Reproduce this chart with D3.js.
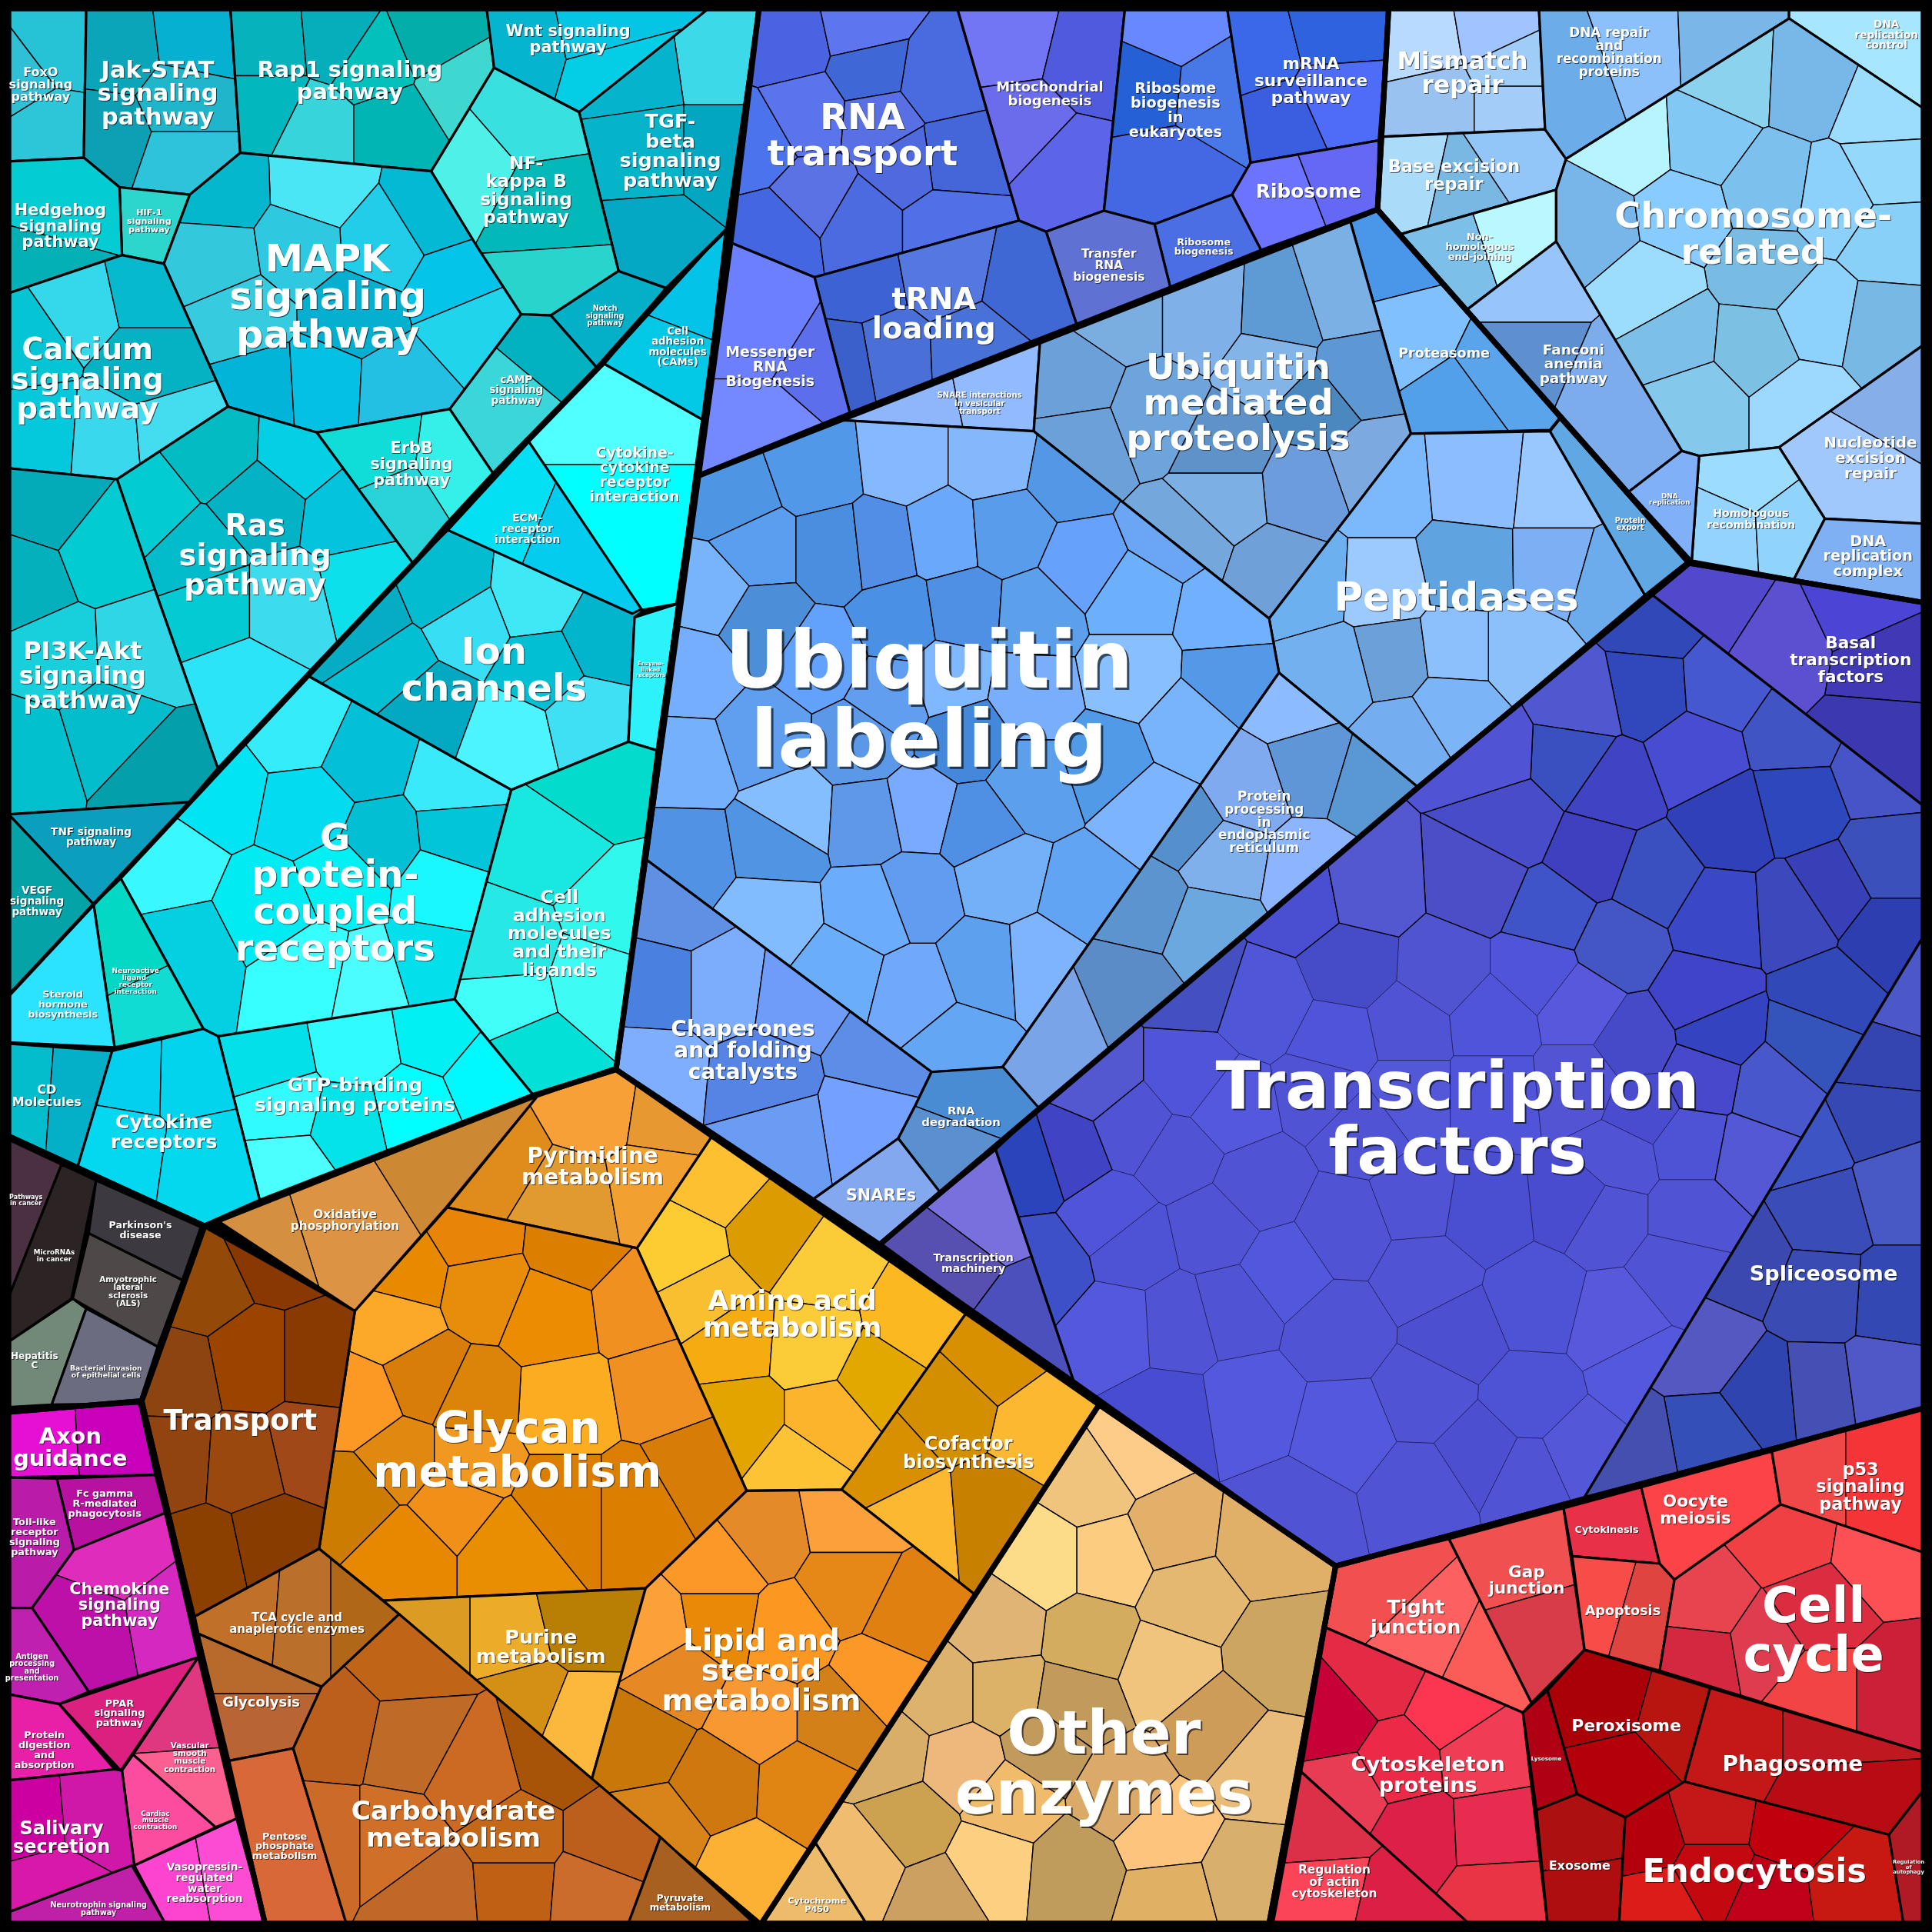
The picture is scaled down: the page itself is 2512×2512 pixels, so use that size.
<!DOCTYPE html>
<html><head><meta charset="utf-8">
<script src="https://cdn.jsdelivr.net/npm/d3@7"></script>
<style>html,body{margin:0;background:#000}svg{display:block}</style></head>
<body><svg id="c" width="2512" height="2512"></svg>
<script>
// Every row: [label ("|" = line break), region outline, cell sites [x,y,tone,faint?], [label x, y, size]]
// All read off the picture on a 0..1568 grid.
const signalingRows = [
["FoxO|signaling|pathway",[[7,7],[70,7],[68,128],[7,131]],[[15,65,"2fc0d6"],[48,40,"26c3d6"],[38,102,"2dc6d9"]],[33,68,10]],
["Jak-STAT|signaling|pathway",[[70,7],[187,7],[195,124],[154,158],[97,152],[68,128]],[[95,40,"0ba5ba"],[160,32,"05b0d0"],[150,82,"1fb6cc"],[86,110,"0d9fb4"],[150,132,"2dc3da"]],[128,75,19]],
["Rap1 signaling|pathway",[[187,7],[395,7],[401,55],[350,139],[195,124]],[[218,35,"06b3bd"],[275,30,"05aebb"],[302,48,"02c0bc"],[350,28,"03adaa"],[375,72,"3ed8d0"],[322,105,"02b5b5"],[252,105,"38d4dc"],[218,88,"02b8be"]],[284,65,18]],
["Wnt signaling|pathway",[[395,7],[575,7],[470,91],[401,55]],[[420,35,"05b4ce"],[490,20,"04c5e4"],[500,58,"03cee6"]],[461,31,13]],
["TGF-|beta|signaling|pathway",[[575,7],[616,7],[590,186],[541,234],[502,220],[470,91]],[[585,45,"3cdae8"],[515,55,"05b4cc"],[585,125,"03a6c0"],[525,125,"06b4ca"],[530,195,"05a8c4"]],[544,122,16]],
["HIF-1|signaling|pathway",[[97,152],[154,158],[133,214],[99,207]],[[122,182,"2dd6cc"]],[121,179,7]],
["Hedgehog|signaling|pathway",[[7,131],[68,128],[97,152],[99,207],[7,238]],[[50,165,"03cdd2"],[35,220,"03b0b5"]],[49,183,13]],
["MAPK|signaling|pathway",[[195,124],[350,139],[389,203],[423,255],[365,332],[257,351],[185,330],[133,214],[154,158]],[[259,153,"4ae6f5"],[179,156,"04b7cc"],[350,172,"04b9d4"],[310,197,"22cdea"],[370,232,"04c4ea"],[382,261,"20d4ec"],[175,210,"34c8dc"],[195,258,"36cbdf"],[243,200,"2ec8e0"],[287,255,"04afcf"],[211,315,"02b5d8"],[263,312,"04c0e2"],[322,315,"24c0e4"]],[266,240,31]],
["NF-|kappa B|signaling|pathway",[[401,55],[470,91],[502,220],[447,256],[423,255],[389,203],[350,139]],[[430,90,"38e0e0"],[376,137,"4ef0e8"],[442,172,"02b8b8"],[446,232,"28d4cc"]],[427,154,14.5]],
["Notch|signaling|pathway",[[447,256],[502,220],[541,234],[484,298]],[[490,255,"04afc8"]],[491,256,6]],
["cAMP|signaling|pathway",[[423,255],[447,256],[484,298],[400,384],[365,332]],[[445,287,"03b2c0"],[415,323,"3ad6da"]],[419,316,8.5]],
["ErbB|signaling|pathway",[[257,351],[365,332],[400,384],[362,425],[335,457]],[[298,366,"10dcd8"],[378,376,"34f0e8"],[318,414,"28d4d8"]],[334,376,13]],
["Calcium|signaling|pathway",[[7,238],[99,207],[133,214],[185,330],[95,389],[7,380]],[[22,277,"05c4d4"],[64,248,"34d8ea"],[119,236,"06b9cc"],[119,296,"04b2c4"],[32,350,"04c8dc"],[88,354,"3ad8ec"],[135,350,"44ddf0"]],[71,307,24]],
["Ras|signaling|pathway",[[95,389],[185,330],[257,351],[335,457],[177,624],[122,468]],[[175,366,"03bbc2"],[243,369,"03d0e4"],[119,411,"02ccd2"],[211,408,"03b3c5"],[283,417,"03c4dc"],[295,475,"0ce0ea"],[159,452,"02bccc"],[172,490,"04cad4"],[233,490,"3cdcee"],[197,558,"2ce4f8"]],[207,450,24]],
["PI3K-Akt|signaling|pathway",[[7,380],[95,389],[122,468],[177,624],[154,651],[7,661]],[[40,411,"03abb9"],[20,471,"03b0bc"],[84,446,"02ccd2"],[47,532,"18d0dc"],[111,529,"2fd6e6"],[21,611,"03c0cf"],[90,590,"03bccc"],[130,628,"03a0ac"]],[67,548,20]],
["TNF signaling|pathway",[[7,661],[154,651],[76,734]],[[75,680,"0a9fbd"]],[74,679,8.5]],
["VEGF|signaling|pathway",[[7,661],[76,734],[7,808]],[[30,733,"03a3a8"]],[30,731,8.5]],
["G|protein-|coupled|receptors",[[251,549],[415,641],[369,811],[252,830],[177,841],[165,835],[98,713],[206,597]],[[243,590,"34ecfa"],[297,615,"03c0d8"],[369,636,"38eafa"],[175,643,"00e4f4"],[136,701,"3af8ff"],[251,658,"03dbf0"],[308,683,"03bfd4"],[372,676,"03c5da"],[218,737,"00ecf2"],[150,772,"03d0e0"],[279,711,"00f0f4"],[358,719,"1af8ff"],[347,783,"03e0ec"],[251,787,"38ffff"],[301,797,"4cfdff"]],[272,724,30]],
["Ion|channels",[[363,430],[513,495],[523,495],[515,501],[510,602],[415,641],[251,549]],[[297,507,"04acc4"],[319,540,"03bfd4"],[362,479,"03bcd0"],[433,486,"3ee8f4"],[379,507,"38dff4"],[490,518,"03b5cc"],[347,572,"03a9c0"],[440,543,"03bfd4"],[415,597,"4cf4ff"],[476,583,"40e0f4"]],[401,543,30]],
["Enzyme-|linked|receptors",[[515,501],[550,490],[533,609],[510,602]],[[530,550,"2cf2fc"]],[528,543,4.5]],
["ECM-|receptor|interaction",[[363,430],[429,358],[521,494],[513,498]],[[398,424,"03e0f4"],[466,452,"03ccee"]],[428,429,8.6]],
["Cytokine-|cytokine|receptor|interaction",[[490,295],[571,341],[549,490],[521,495],[429,358]],[[497,334,"50ffff"],[497,420,"00ffff"]],[515,385,11.8]],
["Cell|adhesion|molecules|(CAMs)",[[490,295],[589,186],[571,341]],[[565,229,"03c4e8"],[537,302,"03c8e6"]],[550,281,8.3]],
["Cell|adhesion|molecules|and their|ligands",[[415,641],[510,602],[533,609],[500,866],[433,889],[369,811]],[[476,636,"03dccc"],[444,683,"18e8e0"],[501,740,"30f8ec"],[412,772,"26e8e4"],[415,812,"40fff8"],[433,855,"02e0d8"],[483,797,"3efcf4"]],[454,757,14.8]],
["GTP-binding|signaling proteins",[[177,841],[369,811],[433,889],[211,975]],[[218,862,"03e0ea"],[290,848,"30fcff"],[354,837,"00f0f4"],[397,873,"00f8ff"],[229,898,"30fbff"],[333,901,"00ffff"],[283,912,"03e4e8"],[233,948,"4cffff"]],[288,888,16]],
["Neuroactive|ligand-|receptor|interaction",[[98,713],[165,835],[93,850],[76,734]],[[97,772,"03d8c4"],[122,822,"10dcd4"]],[110,796,5.6]],
["Steroid|hormone|biosynthesis",[[76,734],[93,850],[7,846],[7,808]],[[50,810,"2be2ff"]],[51,815,8]],
["CD|Molecules",[[7,847],[91,853],[63,947],[7,922]],[[20,887,"03bccc"],[61,890,"03b0c8"]],[38,889,10]],
["Cytokine|receptors",[[91,853],[165,835],[177,841],[211,975],[166,995],[63,947]],[[107,872,"03d0ee"],[154,873,"03d4ee"],[97,930,"03d8f0"],[168,940,"03d8ee"]],[133,918,16]]
];
const rnaRows = [
["RNA|transport",[[616,7],[777,7],[827,179],[661,225],[593,197]],[[640,34,"4a63e0"],[700,21,"5e75f0"],[758,65,"4a6ae0"],[708,57,"3f68d6"],[614,116,"4b73ec"],[654,93,"5a74ee"],[715,98,"5970e4"],[772,129,"4466d8"],[736,134,"4f6ade"],[661,160,"5a72e4"],[632,189,"4466e0"],[697,181,"4d6be0"],[768,181,"5170e8"]],[700,109,29]],
["Mitochondrial|biogenesis",[[777,7],[913,7],[896,171],[849,188],[827,179]],[[819,31,"7275f4"],[885,47,"4f5adc"],[829,103,"6a6cec"],[865,137,"5c64e8"]],[852,76,11.2]],
["Ribosome|biogenesis|in|eukaryotes",[[913,7],[996,7],[1015,132],[1000,158],[937,182],[896,171]],[[951,23,"6888ff"],[931,70,"2660d6"],[983,75,"4878e8"],[944,140,"4468e4"]],[954,89,12]],
["mRNA|surveillance|pathway",[[996,7],[1127,7],[1119,114],[1015,132]],[[1019,39,"3a68e8"],[1083,23,"2f62de"],[1087,80,"4e6cf8"],[1040,101,"3b5ee0"]],[1064,65,13.5]],
["Ribosome",[[1015,132],[1119,114],[1118,170],[1024,204],[1000,158]],[[1037,163,"6c74ff"],[1091,142,"6468f4"]],[1062,155,15.5]],
["Ribosome|biogenesis",[[1000,158],[1024,204],[950,234],[937,182]],[[975,195,"4b6ee4"]],[977,200,7.9]],
["Transfer|RNA|biogenesis",[[849,188],[896,171],[937,182],[950,234],[874,264]],[[897,212,"5f72d4"]],[900,215,9.6]],
["tRNA|loading",[[661,225],[827,179],[849,188],[874,264],[838,278],[690,336]],[[697,233,"3c62d4"],[768,220,"5478e0"],[833,233,"4068d4"],[718,285,"4a70d8"],[793,282,"4972d8"],[690,290,"3b60cc"]],[758,254,24]],
["Messenger|RNA|Biogenesis",[[593,197],[661,225],[690,336],[567,386]],[[620,265,"6c80ff"],[668,295,"5c6eec"],[620,350,"7488ff"]],[625,297,11.8]]
];
const proteinRows = [
["SNARE interactions|in vesicular|transport",[[690,336],[844,278],[839,350],[681,341]],[[745,329,"8fb6fb"],[808,316,"92baff"]],[795,327,6.3]],
["Proteasome",[[1096,180],[1116,170],[1266,339],[1258,349],[1145,352]],[[1131,207,"4a96e8"],[1147,271,"80c0ff"],[1213,303,"5aa4ec"],[1183,325,"52a0ea"]],[1172,286,11]],
["Ubiquitin|mediated|proteolysis",[[844,278],[1096,180],[1145,352],[1030,502],[839,350]],[[911,254,"7aaee0"],[976,254,"7fb0e8"],[1040,257,"5e9ad4"],[1090,241,"7ab0e4"],[872,311,"6ca0d8"],[936,336,"6ea4dc"],[1033,295,"82b4e8"],[1101,304,"5e98d4"],[1069,330,"4c88c0"],[1112,378,"7caae0"],[879,358,"6ca0d8"],[994,365,"5e92c8"],[1058,397,"6c9cdc"],[961,438,"74a8dc"],[994,403,"7cb0e4"],[1037,464,"70a0d8"]],[1005,326,29]],
["Peptidases",[[1145,352],[1258,350],[1335,483],[1151,639],[1038,546],[1030,502]],[[1122,397,"7cb8fc"],[1198,390,"8cbeff"],[1266,397,"98c8ff"],[1190,461,"5fa4e0"],[1062,473,"6cb0f0"],[1122,476,"9ccaff"],[1266,460,"7cb0f4"],[1301,470,"6cacec"],[1233,527,"8cc0fa"],[1130,534,"6ca0d8"],[1183,527,"8cc0fc"],[1083,546,"72b0f0"],[1180,575,"7cb4f8"],[1140,600,"74aef0"]],[1182,484,32]],
["Protein|export",[[1258,350],[1266,340],[1369,456],[1335,483]],[[1315,410,"60a8e4"]],[1323,425,6]],
["Ubiquitin|labeling",[[567,386],[684,341],[839,350],[1030,502],[1038,546],[813,867],[756,870],[525,698]],[[594,404,"4e96e4"],[662,380,"5298e8"],[734,372,"84b8ff"],[805,372,"84b8fc"],[614,447,"5a9ef0"],[678,447,"4a8ee0"],[579,479,"78b4fc"],[714,443,"528ee6"],[766,435,"6aa8fc"],[817,431,"5a9cec"],[869,384,"5298e6"],[881,459,"66a2fc"],[949,431,"6aa6f4"],[917,483,"6cb0fc"],[996,499,"70b0fc"],[730,503,"4a90e4"],[782,495,"4f90e4"],[841,499,"5ca0ec"],[917,547,"88c0ff"],[1000,551,"5498e8"],[618,503,"4d8ed8"],[666,535,"62a2fc"],[563,547,"74aefc"],[722,567,"629ef0"],[770,551,"80b8ff"],[837,563,"78aefc"],[785,599,"4488dc"],[618,599,"609ff0"],[559,618,"74b0fc"],[897,618,"509ae8"],[965,591,"78b4fc"],[933,658,"7cb4ff"],[837,638,"5ca0ec"],[698,602,"5c98e8"],[642,662,"84beff"],[706,666,"6098e8"],[746,658,"78aaff"],[794,670,"5090e4"],[557,694,"5292e4"],[630,682,"5094e4"],[742,726,"629cf0"],[813,710,"74b0f8"],[881,726,"62a4f4"],[710,738,"6cacfc"],[626,746,"80bcff"],[682,790,"6aaefa"],[742,805,"70a8fc"],[798,785,"5ca0ee"],[845,782,"7eb4fe"],[778,849,"62a6f4"]],[754,567,64]],
["Protein|processing|in|endoplasmic|reticulum",[[1038,546],[1151,639],[842,901],[813,867]],[[1052,567,"8cbcff"],[1008,642,"80aaf0"],[1068,622,"5e96d8"],[1108,634,"5a98d4"],[965,670,"5690cc"],[992,694,"80b0ec"],[1064,706,"8cb4ff"],[929,734,"5c94d0"],[981,754,"6ca8e0"],[913,805,"5c8cc8"],[857,829,"7aa4e8"]],[1026,667,10.5]],
["Chaperones|and folding|catalysts",[[525,698],[756,870],[743,897],[729,924],[659,974],[500,868]],[[551,734,"6090e4"],[535,801,"4a80e0"],[587,801,"7cacfc"],[646,809,"6e9cf8"],[531,869,"80aeff"],[618,877,"5684e4"],[718,857,"5c8ee8"],[706,909,"74a0ff"],[630,921,"6a9cf4"]],[603,852,17.5]],
["RNA|degradation",[[756,870],[814,866],[843,899],[764,969],[729,924],[743,897]],[[785,888,"4a8cd4"],[768,933,"5a90d0"]],[780,906,9.3]],
["SNAREs",[[659,974],[729,924],[764,969],[714,1010]],[[715,970,"84a8f0"]],[715,970,13]]
];
const dnaRows = [
["Mismatch|repair",[[1127,7],[1249,7],[1254,105],[1121,111]],[[1153,32,"b9daff"],[1213,22,"a0c4ff"],[1228,54,"a0ccf8"],[1165,86,"99c2f0"],[1228,86,"a3cdf8"]],[1187,59,19.5]],
["Base excision|repair",[[1121,111],[1254,105],[1271,129],[1263,154],[1137,190],[1118,170]],[[1144,143,"aadcfa"],[1189,153,"7ab8e4"],[1228,127,"92c6f8"]],[1180,142,14]],
["Non-|homologous|end-joining",[[1137,190],[1263,154],[1263,196],[1191,251]],[[1174,204,"7cc0ea"],[1231,185,"baf8ff"]],[1201,200,8.1]],
["DNA repair|and|recombination|proteins",[[1249,7],[1452,7],[1452,15],[1271,129],[1254,105]],[[1280,57,"6cace8"],[1325,41,"8cc0fa"],[1401,38,"7ab6e8"]],[1306,42,10.5]],
["DNA|replication|control",[[1452,7],[1561,7],[1561,88],[1452,15]],[[1510,30,"a6e6ff"]],[1531,28,8.5]],
["Chromosome-|related",[[1452,15],[1561,88],[1561,280],[1444,363],[1379,370],[1365,366],[1286,237],[1263,196],[1263,154],[1271,129]],[[1326,118,"b6f4ff"],[1407,61,"8ad2ee"],[1468,64,"78b8e8"],[1529,89,"9cdcfc"],[1383,115,"82c8f4"],[1292,182,"78b6ea"],[1365,172,"88ccff"],[1435,153,"7cc0ee"],[1492,162,"8cd0fc"],[1532,140,"94d8fc"],[1535,191,"88d0f8"],[1432,220,"78bce4"],[1338,236,"9cdcfc"],[1359,274,"7cc0e8"],[1426,280,"7cc0e4"],[1474,258,"8cd2fc"],[1529,268,"78b8e4"],[1377,328,"84c8ec"],[1462,328,"9cd8ff"]],[1423,189,29]],
["Fanconi|anemia|pathway",[[1263,196],[1365,366],[1322,399],[1191,251]],[[1238,236,"98c4fc"],[1238,287,"5e90d0"],[1310,318,"7cacec"]],[1277,295,11.5]],
["Nucleotide|excision|repair",[[1561,280],[1561,425],[1481,421],[1444,363]],[[1532,318,"86aee8"],[1495,382,"a0c8fc"]],[1518,371,12.5]],
["Homologous|recombination",[[1379,370],[1444,363],[1481,421],[1456,470],[1373,455]],[[1419,385,"9cdcff"],[1398,433,"94d4fc"],[1453,430,"90d4fc"]],[1421,421,8.8]],
["DNA|replication|complex",[[1481,421],[1561,425],[1561,489],[1456,470]],[[1515,450,"80b0f4"]],[1516,451,12]],
["DNA|replication",[[1365,366],[1379,370],[1373,455],[1322,399]],[[1360,400,"80b0f8"]],[1355,405,5.5]]
];
const transcriptionRows = [
["Basal|transcription|factors",[[1371,457],[1561,489],[1561,654],[1340,482]],[[1391,487,"5248cc"],[1447,523,"5a50d0"],[1508,494,"4c44d4"],[1527,537,"4038b4"],[1522,598,"3c38b0"]],[1502,535,13.5]],
["Transcription|factors",[[808,933],[842,901],[1151,639],[1340,482],[1561,654],[1561,760],[1286,1215],[1084,1271],[871,1120]],[[1342,505,"3048b8"],[1337,559,"3048bc"],[1398,555,"4558d0"],[1283,570,"5058d0"],[1456,595,"4054c4"],[1376,613,"484cd0"],[1525,627,"4654c8"],[1276,616,"3a50c0"],[1459,652,"2c48bc"],[1403,666,"3040b8"],[1308,638,"4044c4"],[1532,698,"3c50bc"],[1227,666,"484cc8"],[1210,613,"5054d4"],[1293,695,"3e40c0"],[1342,713,"3a50c0"],[1395,745,"3a48c8"],[1459,741,"3c48bc"],[1485,724,"3840b8"],[1532,760,"2c3eb0"],[1259,741,"3e54c8"],[1313,767,"4456c4"],[1201,716,"4c4ec8"],[1381,810,"4044c8"],[1393,838,"3444c0"],[1486,810,"3048b8"],[1473,845,"3454bc"],[1439,885,"4858cc"],[1381,874,"4848cc"],[1420,938,"5458d4"],[1054,732,"4a4ed0"],[1111,721,"5458d0"],[971,797,"4450c0"],[890,876,"5458d0"],[865,936,"4044c4"],[840,944,"2a44bc"],[850,1027,"3e50c8"],
[1096,785,"464cc8",1],[1172,789,"5054d0",1],[1247,789,"5054d8",1],[1282,816,"5858dc",1],[1026,815,"5056d8",1],[1086,846,"5054d8",1],[1142,834,"5054d4",1],[1212,827,"5054d8",1],[1327,846,"464ac8",1],[966,876,"5054d8",1],[1076,884,"5054d4",1],[1142,887,"5258d8",1],[1212,887,"5054d8",1],[1282,880,"5254d4",1],[1332,899,"4a4cd0",1],[921,914,"5054d4",1],[996,899,"5458dc",1],[1373,929,"4e52d4",1],[1312,940,"5054d4",1],[1282,974,"4a4cd0",1],[900,989,"5054d8",1],[956,936,"5054d4",1],[1202,982,"4a4ed0",1],[1106,914,"5054d4",1],[1021,963,"5054d4",1],[1091,997,"5054d4",1],[1152,974,"5054d4",1],[1373,986,"5054d4",1],[1302,986,"5054d4",1],[1363,1031,"5054d4",1],[918,1012,"4e52d4",1],[986,997,"5054d4",1],[1041,1031,"5258dc",1],[1247,1057,"4e52d4",1],[1157,1035,"5054d4",1],[1312,1073,"5858dc",1],[1086,1080,"5054d4",1],[1182,1084,"4c50d0",1],[956,1073,"5054d4",1],[1001,1061,"5054d4",1],[906,1076,"5458dc",1],[1016,1141,"5458dc",1],[946,1152,"484cd0",1],[1091,1160,"5458dc",1],[1157,1133,"5054d4",1],[1242,1137,"4e52d4",1],[1202,1178,"4c50d0",1],[1333,1114,"5458dc",1],[1282,1178,"5458d8",1],[1240,1197,"5054d4",1],[1051,1231,"5054d4",1],[1154,1209,"5054d4",1]],[1183,907,53]],
["Spliceosome",[[1561,760],[1561,1143],[1286,1215]],[[1538,808,"4c58c8"],[1523,857,"3444b0"],[1518,906,"3648b4"],[1468,929,"3c54c4"],[1538,967,"4858c4"],[1483,982,"3a4cb8"],[1538,1054,"3448b4"],[1413,1023,"3a48b0"],[1478,1050,"3a4cb4"],[1383,1095,"5458c0"],[1433,1133,"3044b0"],[1476,1129,"4450b4"],[1528,1122,"5058c8"],[1388,1167,"3450b8"],[1327,1178,"4450b0"]],[1480,1033,17]],
["Transcription|machinery",[[714,1010],[808,933],[871,1120]],[[798,983,"7870dc"],[768,1023,"5850b0"],[835,1073,"4c50bc"]],[790,1025,8.8]]
];
const metabolismRows = [
["Oxidative|phosphorylation",[[177,991],[436,890],[362,980],[288,1064]],[[272,987,"dc9444"],[358,933,"cc8833"],[215,1005,"d49040"]],[280,990,9.6]],
["Pyrimidine|metabolism",[[436,890],[500,868],[578,922],[517,1013],[363,980]],[[400,942,"e08c1c"],[484,893,"f8a038"],[543,902,"e89830"],[459,978,"e09a30"],[534,965,"f2a030"]],[481,946,17.5]],
["Amino acid|metabolism",[[578,922],[784,1066],[683,1209],[606,1210],[517,1013]],[[580,956,"fcc030"],[630,1001,"dc9c00"],[551,1014,"fccc30"],[572,1055,"f8c030"],[668,1028,"fccc38"],[743,1073,"fcb820"],[593,1086,"f4ac10"],[660,1091,"fccc38"],[714,1118,"e2a800"],[601,1154,"e4a400"],[672,1154,"fcb42c"],[647,1190,"fcc434"]],[643,1066,22]],
["Cofactor|biosynthesis",[[784,1066],[892,1140],[791,1294],[683,1209]],[[806,1100,"d89000"],[848,1158,"fcb830"],[768,1140,"d48f00"],[718,1185,"d89000"],[743,1235,"fcb830"],[806,1230,"c88000"]],[786,1179,15]],
["Glycan|metabolism",[[363,980],[517,1013],[606,1210],[524,1289],[311,1299],[259,1257],[288,1064]],[[384,1001,"e88508"],[331,1034,"e88a00"],[392,1046,"e88c0c"],[467,1010,"dc7f00"],[446,1068,"ec8c00"],[518,1059,"f09020"],[321,1073,"fca828"],[346,1118,"d87c0a"],[292,1140,"fc9824"],[459,1140,"fcac20"],[538,1127,"f09020"],[384,1136,"dc8408"],[563,1194,"d87c08"],[325,1185,"e08810"],[288,1217,"cc7c00"],[380,1185,"f09820"],[329,1258,"e88800"],[367,1221,"f09018"],[413,1258,"e88e00"],[459,1221,"dc7e00"],[517,1221,"dc7e00"]],[420,1176,35.5]],
["Purine|metabolism",[[311,1299],[524,1289],[480,1445],[382,1361]],[[350,1330,"dc9c24"],[413,1330,"ecac28"],[472,1316,"b87f04"],[426,1379,"d49014"],[471,1397,"fcb83c"]],[439,1336,16]],
["Lipid and|steroid|metabolism",[[524,1289],[606,1210],[683,1209],[791,1294],[618,1561],[480,1445]],[[618,1244,"e48a28"],[689,1231,"fca03c"],[530,1325,"fca038"],[584,1271,"fc9828"],[689,1289,"e68818"],[735,1312,"e08010"],[584,1316,"e88a08"],[639,1325,"fc9820"],[714,1361,"fc9828"],[551,1361,"e68824"],[522,1415,"c87808"],[614,1393,"f89830"],[680,1393,"d48018"],[580,1447,"d07810"],[651,1451,"e08414"],[534,1483,"d88418"],[609,1519,"fcb034"]],[618,1355,24.5]],
["Transport",[[166,996],[288,1064],[259,1257],[158,1312],[115,1137]],[[162,1045,"934a08"],[225,1015,"883800"],[204,1104,"9a4400"],[258,1104,"883a00"],[143,1116,"8c4410"],[250,1176,"a04818"],[141,1184,"924410"],[198,1188,"9a480e"],[166,1264,"8c4000"],[222,1252,"883c00"]],[195,1152,23]],
["TCA cycle and|anaplerotic enzymes",[[158,1312],[259,1257],[324,1310],[261,1369],[161,1326]],[[198,1311,"c07028"],[250,1315,"ba6f2a"],[287,1315,"b06818"]],[241,1317,9.4]],
["Glycolysis",[[161,1326],[261,1369],[238,1419],[186,1429]],[[208,1349,"b86a2c"],[208,1400,"b86434"]],[212,1381,11.2]],
["Pentose|phosphate|metabolism",[[186,1429],[238,1419],[281,1561],[216,1561]],[[232,1495,"d86838"]],[231,1498,8]],
["Carbohydrate|metabolism",[[324,1310],[536,1491],[510,1561],[281,1561],[238,1419],[261,1369]],[[329,1343,"c06518"],[271,1402,"bc5e1c"],[334,1415,"c06a28"],[451,1424,"a85408"],[497,1492,"bc5e1c"],[263,1492,"cc6a28"],[384,1442,"cc6a24"],[321,1492,"d07028"],[417,1492,"c46818"],[354,1537,"c06828"],[417,1532,"c06014"],[480,1537,"cc6c2c"]],[368,1480,21.5]],
["Pyruvate|metabolism",[[536,1491],[612,1561],[510,1561]],[[545,1540,"a86020"]],[552,1544,7.5]]
];
const enzymeRows = [
["Other|enzymes",[[892,1140],[1084,1271],[1030,1561],[703,1561],[662,1496],[618,1561],[791,1294]],[[923,1178,"fccc88"],[885,1204,"f0c47c"],[952,1242,"e2b068"],[1025,1251,"e0b068"],[847,1265,"fcdc88"],[901,1265,"fccc80"],[965,1297,"e4b870"],[885,1330,"d4ac60"],[809,1321,"e0b474"],[1038,1344,"cca660"],[946,1353,"f0c47c"],[815,1373,"dcb268"],[764,1373,"dcb26c"],[872,1382,"c29a5c"],[987,1402,"cc9c58"],[1022,1432,"e8bc78"],[720,1423,"d8ae68"],[783,1432,"ecb87c"],[739,1481,"cca250"],[818,1461,"f0bc6c"],[911,1455,"dcaa68"],[700,1513,"f0bc70"],[802,1513,"fcd080"],[943,1487,"fcc47c"],[872,1519,"c09c5c"],[761,1539,"cca060"],[949,1542,"e0b064"],[1013,1525,"d8b06c"],[847,1417,"c29a5c"]],[896,1430,49]],
["Cytochrome|P450",[[662,1496],[703,1561],[618,1561]],[[660,1540,"ecbc6c"]],[663,1546,7]]
];
const redRows = [
["Tight|junction",[[1085,1271],[1176,1249],[1243,1382],[1236,1390],[1076,1321]],[[1123,1283,"f25050"],[1160,1322,"fc6060"],[1208,1345,"fc5c58"]],[1149,1312,16]],
["Gap|junction",[[1176,1249],[1269,1224],[1286,1339],[1243,1382]],[[1229,1260,"f05050"],[1250,1334,"d83c48"]],[1239,1282,13.5]],
["Cytokinesis",[[1269,1224],[1332,1207],[1347,1269],[1276,1263]],[[1304,1240,"e83048"]],[1304,1241,8]],
["Apoptosis",[[1276,1263],[1347,1269],[1359,1282],[1347,1356],[1286,1339]],[[1301,1302,"f84c48"],[1332,1311,"e04440"]],[1317,1307,11]],
["Oocyte|meiosis",[[1332,1207],[1438,1178],[1445,1221],[1359,1282],[1347,1269]],[[1385,1225,"fc4448"]],[1376,1225,13.5]],
["p53|signaling|pathway",[[1438,1178],[1561,1143],[1561,1260],[1445,1221]],[[1469,1198,"f04848"],[1527,1198,"f43436"]],[1510,1206,14]],
["Cell|cycle",[[1445,1221],[1561,1260],[1561,1422],[1347,1356],[1359,1282]],[[1452,1249,"f04044"],[1524,1260,"fc5054"],[1387,1305,"e84450"],[1383,1342,"d42840"],[1473,1305,"dc2c40"],[1430,1334,"e03c50"],[1476,1373,"f24444"],[1538,1373,"cc2038"]],[1472,1322,40]],
["Cytoskeleton|proteins",[[1076,1321],[1236,1390],[1256,1562],[1193,1562],[1056,1438]],[[1081,1393,"c80038"],[1119,1359,"e42a44"],[1178,1388,"fc3650"],[1202,1424,"f03c54"],[1136,1430,"ec2a48"],[1092,1456,"e83c54"],[1150,1490,"dc2048"],[1212,1487,"e82c50"],[1215,1538,"e83444"]],[1159,1440,17]],
["Regulation|of actin|cytoskeleton",[[1056,1438],[1193,1562],[1033,1562]],[[1078,1487,"dc3048"],[1081,1532,"fc4458"],[1129,1543,"dc2044"]],[1083,1527,9.6]],
["Lysosome",[[1236,1390],[1256,1372],[1280,1456],[1247,1469]],[[1256,1425,"b00014"]],[1255,1427,4.5]],
["Peroxisome",[[1256,1372],[1286,1339],[1388,1370],[1367,1446],[1319,1475],[1280,1456]],[[1301,1379,"aa0008"],[1363,1396,"b81410"],[1315,1441,"b4000a"]],[1320,1400,13.5]],
["Phagosome",[[1388,1370],[1561,1422],[1561,1453],[1533,1489],[1367,1446]],[[1404,1407,"c41818"],[1490,1407,"c01820"],[1493,1456,"b80c14"]],[1455,1431,17.5]],
["Exosome",[[1247,1469],[1280,1456],[1319,1475],[1314,1562],[1256,1562]],[[1280,1492,"ac1010"],[1287,1535,"ae0e10"]],[1282,1514,10]],
["Endocytosis",[[1319,1475],[1367,1446],[1533,1489],[1545,1562],[1314,1562]],[[1335,1490,"b4000c"],[1390,1473,"c41818"],[1455,1484,"c0000c"],[1390,1521,"c40810"],[1346,1546,"dc1c18"],[1435,1541,"c00018"],[1503,1532,"c81812"]],[1424,1518,27]],
["Regulation|of|autophagy",[[1533,1489],[1561,1453],[1561,1562],[1545,1562]],[[1552,1510,"b01a24"]],[1549,1515,4.2]]
];
const magentaRows = [
["Axon|guidance",[[7,1146],[113,1139],[126,1197],[7,1199]],[[31,1171,"e610d4"],[94,1167,"c800bc"]],[57,1174,18]],
["Fc gamma|R-mediated|phagocytosis",[[46,1200],[126,1197],[134,1228],[60,1258]],[[85,1222,"b810a0"]],[85,1220,8]],
["Toll-like|receptor|signaling|pathway",[[7,1199],[46,1200],[60,1258],[26,1305],[7,1305]],[[25,1250,"b81ca8"]],[28,1247,8]],
["Chemokine|signaling|pathway",[[60,1258],[134,1228],[161,1345],[72,1373],[26,1305]],[[96,1256,"e02cbc"],[69,1328,"bc10a8"],[141,1315,"d428c0"]],[97,1302,13]],
["Antigen|processing|and|presentation",[[7,1305],[26,1305],[72,1373],[48,1383],[7,1375]],[[30,1345,"c020b0"]],[26,1353,6]],
["PPAR|signaling|pathway",[[48,1383],[161,1345],[98,1437]],[[98,1385,"dc2080"]],[97,1390,8]],
["Vascular|smooth|muscle|contraction",[[161,1345],[192,1476],[175,1483],[108,1424]],[[146,1391,"e03880"],[150,1450,"fc6090"]],[154,1426,6.5]],
["Cardiac|muscle|contraction",[[108,1424],[175,1483],[109,1514],[99,1437]],[[125,1475,"fc4ca0"]],[126,1477,5.5]],
["Vasopressin-|regulated|water|reabsorption",[[109,1514],[192,1476],[215,1561],[134,1561]],[[141,1526,"fc44d0"],[187,1518,"fc4cd4"]],[166,1528,8.5]],
["Protein|digestion|and|absorption",[[7,1375],[48,1383],[93,1436],[7,1445]],[[40,1415,"e820a8"]],[36,1420,8]],
["Salivary|secretion",[[7,1445],[93,1436],[99,1437],[109,1514],[7,1552]],[[27,1476,"cc00a0"],[75,1472,"d018a8"],[42,1531,"d818a8"]],[50,1491,15]],
["Neurotrophin signaling|pathway",[[7,1552],[107,1514],[134,1561],[7,1561]],[[60,1545,"c020a8"]],[80,1549,6]]
];
const diseaseRows = [
["Pathways|in cancer",[[7,925],[50,945],[7,1053]],[[20,985,"4a3040"]],[21,974,5]],
["MicroRNAs|in cancer",[[50,945],[78,958],[58,1054],[7,1089],[7,1053]],[[45,1015,"2c2424"]],[44,1019,5.5]],
["Parkinson's|disease",[[78,958],[163,996],[148,1039],[72,1001]],[[114,998,"3c3a40"]],[114,998,7.9]],
["Amyotrophic|lateral|sclerosis|(ALS)",[[72,1001],[148,1039],[128,1093],[59,1054]],[[104,1048,"4e4848"]],[104,1048,6.5]],
["Hepatitis|C",[[7,1089],[59,1054],[70,1062],[42,1140],[7,1142]],[[32,1105,"728878"]],[28,1104,7.5]],
["Bacterial invasion|of epithelial cells",[[70,1062],[128,1093],[113,1139],[42,1140]],[[85,1105,"6c6c80"]],[86,1113,5.8]]
];
// Heavy borders between the large groups
const groupOutlines = [
 [[7,7],[616,7],[500,868],[433,889],[211,975],[166,995],[7,922]],
 [[7,7],[616,7],[590,186],[541,234],[490,295],[429,358],[363,430],[334,458],[177,624],[154,651],[76,734],[7,808]],
 [[616,7],[1127,7],[1118,170],[1024,204],[950,234],[874,264],[838,278],[690,336],[567,386],[593,197]],
 [[567,386],[1118,170],[1371,457],[1151,639],[842,901],[714,1010],[500,868]],
 [[1127,7],[1561,7],[1561,489],[1371,457],[1118,170]],
 [[714,1010],[1151,639],[1371,457],[1561,489],[1561,1143],[1084,1271],[892,1140]],
 [[892,1140],[1084,1271],[1030,1561],[618,1561]],
 [[166,995],[433,889],[500,868],[892,1140],[618,1561],[215,1561],[115,1137]],
 [[1084,1271],[1561,1143],[1561,1561],[1030,1561]],
 [[7,922],[166,995],[115,1137],[7,1146]],
 [[7,1146],[115,1137],[215,1561],[7,1561]]
];
const allRows = [...signalingRows,...rnaRows,...proteinRows,...dnaRows,...transcriptionRows,...metabolismRows,...enzymeRows,...redRows,...magentaRows,...diseaseRows];

const S = 2512;
const x = d3.scaleLinear([0,1568],[0,S]), y = d3.scaleLinear([0,1568],[0,S]);
const svg = d3.select("#c");
svg.append("rect").attr("width",S).attr("height",S).attr("fill","#000");
const outlinePath = d3.line(p=>x(p[0]),p=>y(p[1])).curve(d3.curveLinearClosed);
const defs = svg.append("defs");
const bounds=[0,0,S,S];
const maps = svg.append("g");

allRows.forEach((row,ri)=>{
  const [label,outline,sites] = row;
  defs.append("clipPath").attr("id","r"+ri).append("path").attr("d",outlinePath(outline));
  const g = maps.append("g").attr("clip-path",`url(#r${ri})`);
  const pts = sites.map(s=>[x(s[0]),y(s[1])]);
  const vor = sites.length>2 ? d3.Delaunay.from(pts).voronoi(bounds) : null;
  const order = d3.range(sites.length).sort((a,b)=>(sites[b][3]||0)-(sites[a][3]||0));
  let two = null;
  if(sites.length===2){
    const mx=(pts[0][0]+pts[1][0])/2,my=(pts[0][1]+pts[1][1])/2,dx=pts[1][0]-pts[0][0],dy=pts[1][1]-pts[0][1],L=Math.hypot(dx,dy);
    const ux=dx/L,uy=dy/L,far=6000;
    two=[0,1].map(i=>{const s=i?1:-1;return [[mx-uy*far,my+ux*far],[mx+uy*far,my-ux*far],[mx+uy*far+s*ux*far,my-ux*far+s*uy*far],[mx-uy*far+s*ux*far,my+ux*far+s*uy*far]];});
  }
  order.forEach(i=>{
    const s=sites[i];
    let d;
    if(sites.length===1) d=`M0,0H${S}V${S}H0Z`;
    else if(two) d="M"+two[i].map(p=>p.join(",")).join("L")+"Z";
    else d=vor.renderCell(i);
    g.append("path").attr("d",d).attr("fill","#"+s[2])
      .attr("stroke",s[3]?"#1a1a50":"#000").attr("stroke-width",s[3]?1:1.4).attr("stroke-opacity",s[3]?.6:1).attr("stroke-linejoin","round");
  });
  maps.append("path").attr("d",outlinePath(outline)).attr("fill","none").attr("stroke","#000").attr("stroke-width",3.2).attr("stroke-linejoin","round");
});
groupOutlines.forEach((o,i)=>{
  svg.append("path").attr("d",outlinePath(o)).attr("fill","none").attr("stroke","#000").attr("stroke-width",i===1?5:7).attr("stroke-linejoin","miter");
});
svg.append("rect").attr("x",5.5).attr("y",5.5).attr("width",S-11).attr("height",S-11).attr("fill","none").attr("stroke","#000").attr("stroke-width",11);

const labels = svg.append("g").attr("font-family","'DejaVu Sans'").attr("fill","#fff").attr("text-anchor","middle").attr("font-weight",700);
allRows.forEach(row=>{
  const [label,, ,spot]=row;
  const [lx,ly,size]=spot;
  const lines=label.split("|");
  const fs=size*S/1568;
  const off=Math.max(1.1,fs*.03);
  const t=labels.append("text").attr("x",x(lx)).attr("font-size",fs)
    .style("filter",`drop-shadow(${off}px ${off}px 0px rgba(0,0,0,.62))`);
  const first=y(ly)-(lines.length-1)*fs/2+fs*.36;
  lines.forEach((ln,i)=>t.append("tspan").attr("x",x(lx)).attr("y",first+i*fs).text(ln));
});
</script></body></html>
